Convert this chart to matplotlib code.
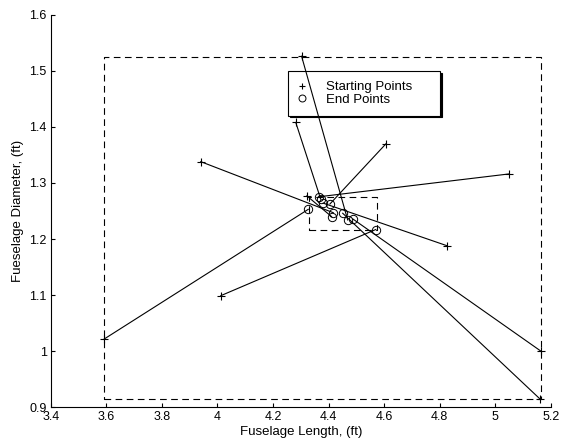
import matplotlib
matplotlib.use("Agg")
import matplotlib.pyplot as plt
from matplotlib.lines import Line2D

start_x = [3.590, 4.012, 4.282, 4.303, 4.607, 5.048, 3.940, 4.827, 4.322, 5.165, 5.161]
start_y = [1.021, 1.099, 1.408, 1.526, 1.370, 1.316, 1.338, 1.188, 1.277, 1.000, 0.915]
end_x = [4.327, 4.570, 4.372, 4.469, 4.405, 4.367, 4.417, 4.381, 4.411, 4.487, 4.451]
end_y = [1.253, 1.217, 1.271, 1.234, 1.2625, 1.2755, 1.247, 1.264, 1.240, 1.236, 1.246]

outer_box_x = [3.590, 5.165]
outer_box_y = [0.915, 1.525]
inner_box_x = [4.330, 4.575]
inner_box_y = [1.216, 1.275]

xticks = [3.4, 3.6, 3.8, 4.0, 4.2, 4.4, 4.6, 4.8, 5.0, 5.2]
xticklabels = ["3.4", "3.6", "3.8", "4", "4.2", "4.4", "4.6", "4.8", "5", "5.2"]
yticks = [0.9, 1.0, 1.1, 1.2, 1.3, 1.4, 1.5, 1.6]
yticklabels = ["0.9", "1", "1.1", "1.2", "1.3", "1.4", "1.5", "1.6"]

plt.rcParams['font.family'] = ['Liberation Sans', 'DejaVu Sans']
fig = plt.figure(figsize=(5.64, 4.42), dpi=100)
ax = fig.add_axes([0.0900, 0.0785, 0.8865, 0.8882])

for sx, sy, ex, ey in zip(start_x, start_y, end_x, end_y):
    ax.plot([sx, ex], [sy, ey], color='black', lw=0.8, zorder=3)

ax.plot(start_x, start_y, linestyle='none', marker='+', color='black', ms=6, mew=0.8,
        label='Starting Points', zorder=4)
ax.plot(end_x, end_y, linestyle='none', marker='o', mfc='none', mec='black', ms=6, mew=0.7,
        label='End Points', zorder=4)

def box(bx, by):
    ax.plot([bx[0], bx[1], bx[1], bx[0], bx[0]], [by[0], by[0], by[1], by[1], by[0]],
            color='black', lw=0.8, linestyle=(0, (6, 4)), zorder=3)

box(outer_box_x, outer_box_y)
box(inner_box_x, inner_box_y)

ax.set_xlim(3.4, 5.2)
ax.set_ylim(0.9, 1.6)
ax.set_xticks(xticks)
ax.set_xticklabels(xticklabels)
ax.set_yticks(yticks)
ax.set_yticklabels(yticklabels)
ax.tick_params(direction='in', length=3, labelsize=9, width=0.8, pad=3)
ax.spines['top'].set_visible(False)
ax.spines['right'].set_visible(False)
ax.spines['left'].set_linewidth(0.8)
ax.spines['bottom'].set_linewidth(0.8)
ax.set_xlabel('Fuselage Length, (ft)', fontsize=9.5, labelpad=2)
ax.set_ylabel('Fueselage Diameter, (ft)', fontsize=9.5, labelpad=4)

handles = [Line2D([], [], linestyle='none', marker='+', color='black', ms=5, mew=0.8),
           Line2D([], [], linestyle='none', marker='o', mfc='none', mec='black', ms=5, mew=0.7)]
leg = ax.legend(handles, ['Starting Points', 'End Points'],
                loc='upper left', bbox_to_anchor=(0.4744, 0.856, 0.304, 0.0),
                mode='expand', fontsize=9.5,
                frameon=True, fancybox=False,
                shadow={'ox': 1.2, 'oy': -1.2, 'color': 'black', 'alpha': 1.0},
                handlelength=0.6, borderpad=0.75, labelspacing=0.0,
                handletextpad=1.5, borderaxespad=0)
leg.get_frame().set_edgecolor('black')
leg.get_frame().set_linewidth(0.8)
leg.set_zorder(1)

fig.savefig('out.png', dpi=100)
